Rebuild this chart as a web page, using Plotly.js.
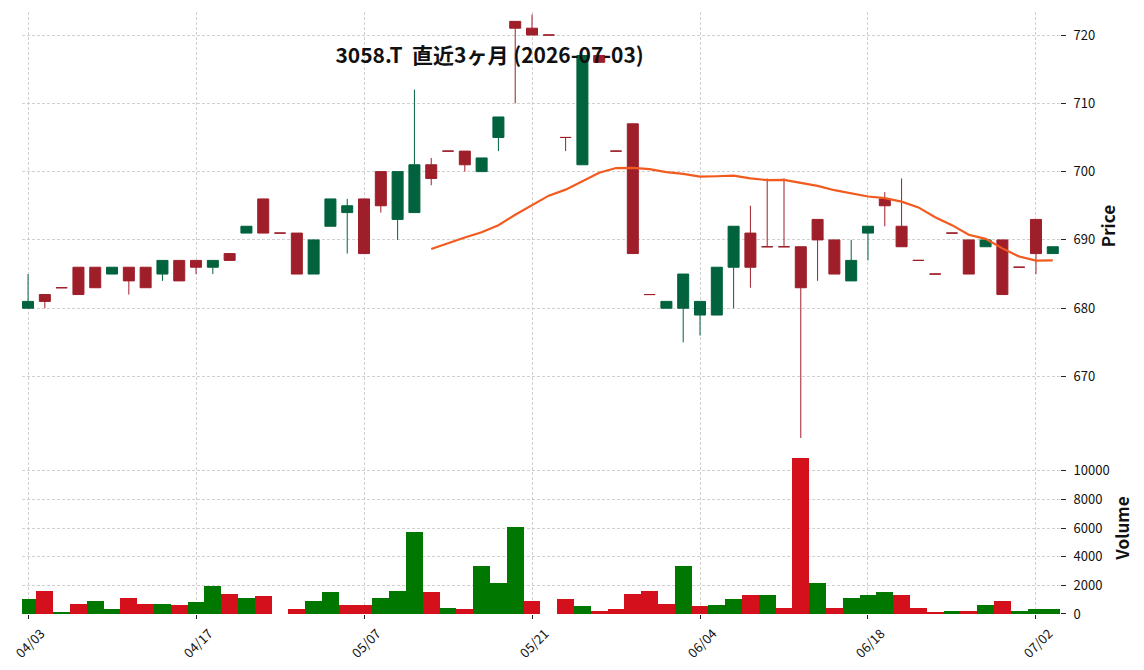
<!DOCTYPE html>
<html>
<head>
<meta charset="utf-8">
<script src="https://cdn.plot.ly/plotly-3.0.1.min.js"></script>
<style>
html,body{margin:0;padding:0;background:#fff;}
#chart{width:1144px;height:670px;}
</style>
</head>
<body>
<div id="chart"></div>
<script>
// ---- data ----
const dates = ['04/03','04/06','04/07','04/08','04/09','04/10','04/13','04/14','04/15','04/16',
  '04/17','04/20','04/21','04/22','04/23','04/24','04/27','04/28','04/30','05/01',
  '05/07','05/08','05/11','05/12','05/13','05/14','05/15','05/18','05/19','05/20',
  '05/21','05/22','05/25','05/26','05/27','05/28','05/29','06/01','06/02','06/03',
  '06/04','06/05','06/08','06/09','06/10','06/11','06/12','06/15','06/16','06/17',
  '06/18','06/19','06/22','06/23','06/24','06/25','06/26','06/29','06/30','07/01',
  '07/02','07/03'];
const opens = [680,682,683,686,686,685,686,686,685,687,
  687,686,688,691,696,691,691,685,692,694,
  696,700,693,694,701,703,703,700,705,722,
  721,720,705,701,717,703,707,682,680,680,
  679,679,686,691,689,689,689,693,690,684,
  691,696,692,687,685,691,690,689,690,686,
  693,688];
const highs = [685,682,683,686,686,686,686,686,687,687,
  687,687,688,692,696,691,691,690,696,696,
  696,700,700,712,702,703,703,702,708,722,
  723,720,705,717,717,703,707,682,681,685,
  681,686,692,695,699,699,689,693,690,690,
  692,697,699,687,685,691,690,690,690,686,
  693,689];
const lows = [680,680,683,682,683,685,682,683,684,684,
  685,685,687,691,691,691,685,685,692,688,
  688,694,690,694,698,703,700,700,703,710,
  720,720,703,701,716,703,688,682,680,675,
  676,679,680,683,689,689,661,684,685,684,
  687,692,689,687,685,691,685,689,682,686,
  685,688];
const closes = [681,681,683,682,683,686,684,683,687,684,
  686,687,687,692,691,691,685,690,696,695,
  688,695,700,701,699,703,701,702,708,721,
  720,720,705,717,716,703,688,682,681,685,
  681,686,692,686,689,689,683,690,685,687,
  692,695,689,687,685,691,685,690,682,686,
  688,689];
const volumes = [1050,1600,150,700,900,350,1100,700,700,630,
  840,1950,1400,1100,1250,0,350,900,1530,630,
  630,1100,1600,5720,1550,400,350,3370,2160,6070,
  900,0,1050,550,200,350,1400,1600,700,3370,
  550,630,1050,1330,1330,400,10900,2160,400,1100,
  1330,1530,1330,400,150,200,200,630,900,200,
  350,350];
// 25-day moving average of the close, as drawn in the reference
const ma25 = [null,null,null,null,null,null,null,null,null,null,
  null,null,null,null,null,null,null,null,null,null,
  null,null,null,null,688.68,689.56,690.36,691.12,692.16,693.68,
  695.04,696.48,697.36,698.56,699.84,700.52,700.56,700.36,699.92,699.68,
  699.28,699.32,699.40,699.00,698.76,698.80,698.32,697.92,697.28,696.80,
  696.36,696.12,695.60,694.76,693.32,692.16,690.76,690.16,688.76,687.56,
  686.96,687.00];
const tickLabels = ['04/03','04/17','05/07','05/21','06/04','06/18','07/02'];
const priceTicks = [670,680,690,700,710,720];
const volumeTicks = [0,2000,4000,6000,8000,10000];
const volumeTickText = ['0','2000','4000','6000','8000','10000'];
const chartTitle = '3058.T\u00a0 直近3ヶ月 (2026-07-03)';

// ---- styles ----
const UP = '#00633e', DOWN = '#9e1f2a';
const VUP = '#007800', VDOWN = '#d4101c';
const MA_COLOR = '#f25a1e';
const FONT = 'Noto Sans CJK JP, Noto Sans, sans-serif';
const GRID = '#c4c4c4';

function pick(idx, arr){ return idx.map(i => arr[i]); }
const upIdx = [], downIdx = [];
for (let i = 0; i < dates.length; i++) {
  if (closes[i] > opens[i]) upIdx.push(i); else downIdx.push(i);
}
function candle(idx, color){
  return {
    type: 'candlestick',
    x: pick(idx, dates), open: pick(idx, opens), high: pick(idx, highs),
    low: pick(idx, lows), close: pick(idx, closes),
    xaxis: 'x', yaxis: 'y',
    increasing: {line: {color: color, width: 1}, fillcolor: color},
    decreasing: {line: {color: color, width: 1}, fillcolor: color},
    whiskerwidth: 0, hoverinfo: 'skip', showlegend: false
  };
}
const volColors = closes.map((c, i) => (i === 0 || c > closes[i-1]) ? VUP : VDOWN);

const traces = [
  candle(upIdx, UP),
  candle(downIdx, DOWN),
  {type: 'scatter', mode: 'lines', x: dates, y: ma25, xaxis: 'x', yaxis: 'y',
   line: {color: MA_COLOR, width: 2.2}, hoverinfo: 'skip', showlegend: false, connectgaps: false},
  {type: 'bar', x: dates, y: volumes, xaxis: 'x', yaxis: 'y2', width: 1,
   marker: {color: volColors, line: {width: 0}}, hoverinfo: 'skip', showlegend: false}
];

const axisFont = {family: FONT, size: 13, color: '#111'};
const layout = {
  width: 1144, height: 670,
  margin: {l: 22, r: 84, t: 12, b: 56},
  paper_bgcolor: '#fff', plot_bgcolor: '#fff',
  showlegend: false,
  boxgap: 0.345, boxgroupgap: 0, bargap: 0,
  title: {text: chartTitle, font: {family: FONT, size: 21, weight: 'bold', color: '#111'},
          x: 0.428, xanchor: 'center', xref: 'container', y: 1 - 56/670, yanchor: 'middle', yref: 'container'},
  xaxis: {
    type: 'category', categoryorder: 'array', categoryarray: dates,
    range: [-0.36, 61.43], anchor: 'y2',
    rangeslider: {visible: false},
    tickmode: 'array', tickvals: tickLabels, ticktext: tickLabels, tickangle: -45,
    ticks: 'outside', ticklen: 4, tickcolor: '#222', tickwidth: 1,
    ticklabelshift: 13, ticklabelstandoff: 2,
    tickfont: axisFont,
    showgrid: true, gridcolor: GRID, gridwidth: 0.8, griddash: '3px,2px',
    showline: false, zeroline: false, fixedrange: true
  },
  yaxis: {
    domain: [0.289, 1], side: 'right', anchor: 'x',
    range: [660.7, 723.37],
    tickmode: 'array', tickvals: priceTicks,
    ticks: 'outside', ticklen: 5, tickcolor: '#222', tickwidth: 1, ticklabelstandoff: 5,
    tickfont: axisFont,
    showgrid: true, gridcolor: GRID, gridwidth: 0.8, griddash: '3px,2px',
    showline: false, zeroline: false, fixedrange: true,
    title: {text: 'Price', font: {family: FONT, size: 17, weight: 'bold', color: '#111'}, standoff: 8}
  },
  yaxis2: {
    domain: [0, 0.2857], side: 'right', anchor: 'x',
    range: [0, 12000],
    tickmode: 'array', tickvals: volumeTicks, ticktext: volumeTickText,
    ticks: 'outside', ticklen: 5, tickcolor: '#222', tickwidth: 1, ticklabelstandoff: 5,
    tickfont: axisFont,
    showgrid: true, gridcolor: GRID, gridwidth: 0.8, griddash: '3px,2px',
    showline: false, zeroline: false, fixedrange: true,
    title: {text: 'Volume', font: {family: FONT, size: 17, weight: 'bold', color: '#111'}, standoff: 8}
  }
};

Plotly.newPlot('chart', traces, layout, {staticPlot: true, displayModeBar: false});
</script>
</body>
</html>
